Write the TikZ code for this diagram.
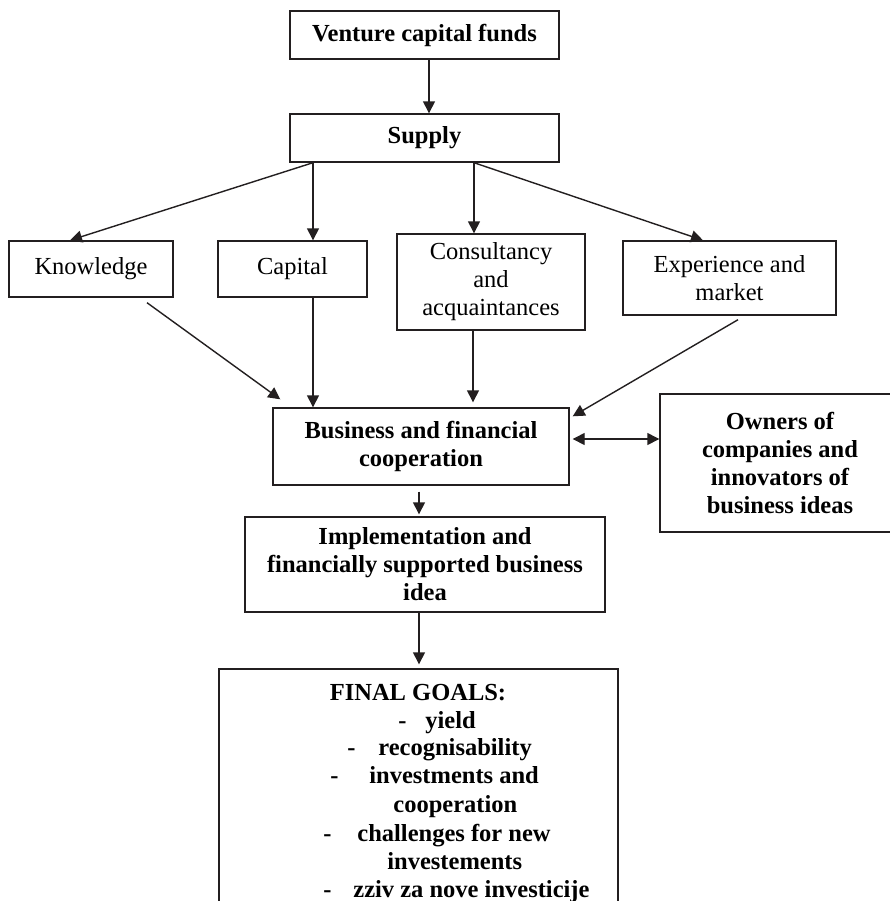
\documentclass[tikz,border=0pt]{standalone}
\usepackage{fontspec}
\setmainfont{Liberation Serif}
\usetikzlibrary{arrows.meta}
\definecolor{ink}{HTML}{231F20}
\begin{document}
\begin{tikzpicture}[x=0.5pt,y=-0.5pt,
  txt/.style={font=\fontsize{12.25pt}{14pt}\selectfont},
  box/.style={txt, draw=ink, line width=0.7pt, align=center, inner sep=0pt, text=black},
  hd/.style={box, font=\fontsize{12.25pt}{14pt}\selectfont\bfseries},
  tip/.tip={Triangle[length=6pt,width=6pt]},
  arr/.style={draw=ink, line width=0.7pt, -tip},
  goal/.style={anchor=base west, inner sep=0pt, font=\fontsize{12.25pt}{14pt}\selectfont\bfseries}]
\useasboundingbox (0,0) rectangle (890,901);
\clip (0,0) rectangle (890,901);
\fill[white] (0,0) rectangle (890,901);

% boxes
\node[hd, minimum width=134.5pt, minimum height=24pt] (vc) at (424.5,35) {Venture capital funds};
\node[hd, minimum width=134.5pt, minimum height=24pt] (supply) at (424.5,138) {Supply};
\node[box, minimum width=82pt, minimum height=28pt] (know) at (91,269) {Knowledge};
\node[box, minimum width=74.5pt, minimum height=28pt] (cap) at (292.5,269) {Capital};
\node[box, minimum width=94pt, minimum height=48pt] (cons) at (491,282) {Consultancy\\and\\acquaintances};
\node[box, minimum width=106.5pt, minimum height=37pt] (exp) at (729.5,278) {Experience and\\market};
\node[hd, minimum width=148pt, minimum height=38.5pt] (bus) at (421,446.5) {Business and financial\\cooperation};
\node[hd, minimum width=120pt, minimum height=69pt] (own) at (780,463) {Owners of\\companies and\\innovators of\\business ideas};
\node[hd, minimum width=180pt, minimum height=47.5pt] (impl) at (425,564.5) {Implementation and\\financially supported business\\idea};
\node[box, minimum width=199.5pt, minimum height=145.5pt] (goals) at (418.5,814.5) {};

% goal list
\node[goal, anchor=base] (g0) at (418,700) {FINAL GOALS:};
\node[goal] (d1) at (398,728) {-};
\node[goal] (g1) at (425,728) {yield};
\node[goal] (d2) at (347,755) {-};
\node[goal] (g2) at (378,755) {recognisability};
\node[goal] (d3) at (330,783) {-};
\node[goal] (g3) at (369,783) {investments and};
\node[goal] (g3b) at (393,812) {cooperation};
\node[goal] (d4) at (323,841) {-};
\node[goal] (g4) at (357,841) {challenges for new};
\node[goal] (g4b) at (387,869) {investements};
\node[goal] (d5) at (323,897) {-};
\node[goal] (g5) at (353,897) {zziv za nove investicije};

% connectors
\draw[arr] ([xshift=2.25pt]vc.south) -- ([xshift=2.25pt]supply.north);
\draw[arr] ([xshift=-55.75pt]supply.south) -- ([xshift=-10.5pt]know.north);
\draw[arr] ([xshift=-55.75pt]supply.south) -- ([xshift=10.25pt]cap.north);
\draw[arr] ([xshift=24.75pt]supply.south) -- ([xshift=-8.5pt]cons.north);
\draw[arr] ([xshift=24.75pt]supply.south) -- ([xshift=-13.25pt]exp.north);

\draw[arr] ([shift={(28pt,-2.5pt)}]know.south) -- ([shift={(4pt,4pt)}]bus.north west);
\coordinate (capout) at ([xshift=10.25pt]cap.south);
\draw[arr] (capout) -- (capout |- bus.north);
\coordinate (consout) at ([xshift=-9pt]cons.south);
\coordinate (consin) at (consout |- bus.north);
\draw[arr] (consout) -- ([yshift=2.5pt]consin);
\draw[arr] ([shift={(4.25pt,-2pt)}]exp.south) -- ([shift={(1.5pt,-4.5pt)}]bus.north east);

\coordinate (busr) at ([shift={(1.5pt,3.75pt)}]bus.east);
\draw[arr, tip-tip] (busr) -- (busr -| own.west);

\coordinate (busout) at ([shift={(-1pt,-3pt)}]bus.south);
\coordinate (implin) at (busout |- impl.north);
\draw[arr] (busout) -- ([yshift=1pt]implin);
\coordinate (implout) at ([xshift=-3pt]impl.south);
\coordinate (goalsin) at (implout |- goals.north);
\draw[arr] (implout) -- ([yshift=2pt]goalsin);
\end{tikzpicture}
\end{document}
